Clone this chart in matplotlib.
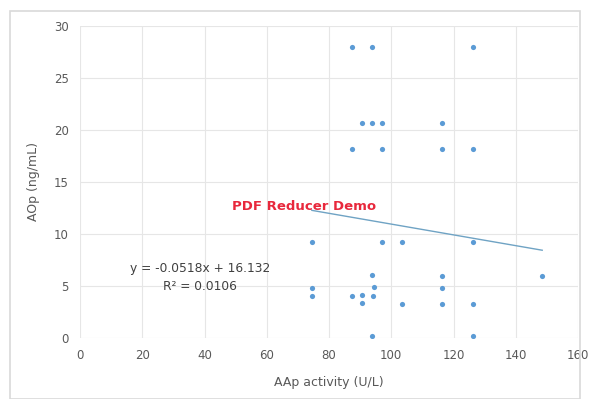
import matplotlib.pyplot as plt
import numpy as np
from matplotlib.patches import Rectangle

# AAp activity (U/L) vs AOp (ng/mL)
aap = [87.4, 93.8, 126.3,
       90.6, 93.8, 97.0, 116.4,
       87.4, 97.0, 116.4, 126.3,
       74.5, 97.0, 103.6, 126.3,
       93.8, 116.4, 148.5,
       74.5, 94.6, 116.4,
       74.5, 87.4, 90.6, 94.0,
       90.6, 103.6, 116.4, 126.3,
       93.8, 126.3]
aop = [28.0, 28.0, 28.0,
       20.7, 20.7, 20.7, 20.7,
       18.2, 18.2, 18.2, 18.2,
       9.2, 9.2, 9.2, 9.2,
       6.1, 6.0, 6.0,
       4.8, 4.9, 4.8,
       4.0, 4.0, 4.1, 4.0,
       3.4, 3.3, 3.3, 3.3,
       0.2, 0.2]

# linear trendline from the chart label
slope = -0.0518
intercept = 16.132
r2 = 0.0106

x_ticks = [0, 20, 40, 60, 80, 100, 120, 140, 160]
y_ticks = [0, 5, 10, 15, 20, 25, 30]

fig = plt.figure(figsize=(5.9, 3.99), dpi=100)
plt.rcParams['font.family'] = ['DejaVu Sans']

# outer chart border
fig.patches.append(Rectangle((10 / 590, 0.0), 570 / 590, 1 - 11 / 399, transform=fig.transFigure,
                             fill=False, edgecolor='#d9d9d9', linewidth=1.2))

ax = fig.add_axes([80 / 590, 1 - 338 / 399, 498 / 590, 312 / 399])
ax.scatter(aap, aop, s=14, color='#5b9bd5', zorder=3, linewidths=0)

tx = np.array([min(aap), max(aap)])
ax.plot(tx, slope * tx + intercept, color='#6fa3c4', linewidth=1, zorder=2)

ax.set_xlim(0, 160)
ax.set_ylim(0, 30)
ax.set_xticks(x_ticks)
ax.set_yticks(y_ticks)
ax.grid(True, color='#e6e6e6', linewidth=0.8)
ax.set_axisbelow(True)
for s in ax.spines.values():
    s.set_visible(False)
ax.tick_params(length=0, labelsize=8.5, labelcolor='#595959', pad=8)

ax.set_xlabel('AAp activity (U/L)', fontsize=9, color='#595959', labelpad=10)
ax.set_ylabel('AOp (ng/mL)', fontsize=9, color='#595959', labelpad=10)

ax.text(38.5, 6.7, f'y = {slope}x + {intercept}', ha='center', va='center',
        fontsize=8.8, color='#404040')
ax.text(38.5, 5.0, f'R² = {r2}', ha='center', va='center', fontsize=8.8, color='#404040')

ax.text(72, 12.6, 'PDF Reducer Demo', ha='center', va='center', fontsize=9.5,
        color='#e8283c', fontweight='bold')

fig.savefig('out.png', dpi=100)
